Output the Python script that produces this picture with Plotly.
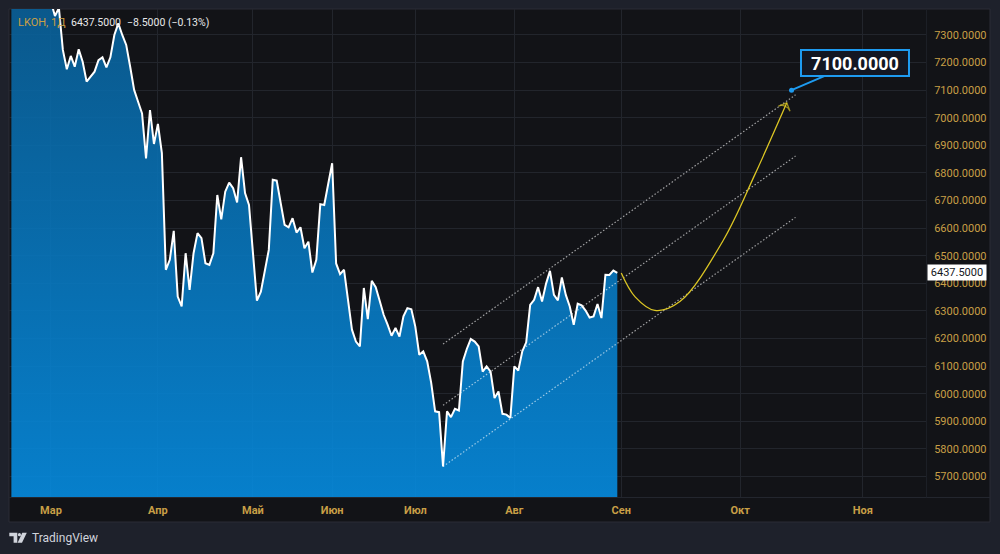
import plotly.graph_objects as go

# ---------------- data ----------------
prices = [
    7460, 7490, 7530, 7500, 7550, 7520, 7470, 7510, 7480, 7450, 7420,
    7369, 7398, 7246, 7176, 7224, 7185, 7248, 7203, 7131, 7147,
    7167, 7209, 7219, 7183, 7219, 7300, 7342, 7300, 7264, 7185,
    7101, 7058, 7016, 6853, 7028, 6905, 6978, 6872, 6449, 6485,
    6590, 6352, 6316, 6509, 6376, 6509, 6582, 6564, 6473, 6467,
    6509, 6720, 6632, 6732, 6765, 6745, 6693, 6857, 6727, 6684,
    6510, 6337, 6370, 6442, 6521, 6775, 6772, 6691, 6612, 6603,
    6636, 6584, 6603, 6527, 6551, 6439, 6485, 6687, 6684, 6760,
    6835, 6472, 6433, 6449, 6340, 6232, 6189, 6171, 6383, 6270,
    6409, 6386, 6337, 6286, 6250, 6210, 6238, 6207, 6280, 6310,
    6306, 6243, 6141, 6153, 6117, 6040, 5936, 5933, 5736, 5936,
    5915, 5945, 5939, 6117, 6162, 6198, 6189, 6171, 6080, 6099,
    6080, 5984, 6008, 5927, 5924, 5912, 6099, 6084, 6153, 6186,
    6322, 6340, 6386, 6334, 6398, 6445, 6358, 6338, 6421, 6358,
    6316, 6250, 6326, 6320, 6301, 6276, 6280, 6325, 6274, 6431,
    6430, 6446, 6437.5,
]
bars = list(range(len(prices)))

month_labels = ["Мар", "Апр", "Май", "Июн", "Июл", "Авг", "Сен", "Окт", "Ноя"]
month_bars = [10, 37, 61, 81, 102, 127, 154, 184, 215]

price_ticks = [5700, 5800, 5900, 6000, 6100, 6200, 6300, 6400, 6500,
               6600, 6700, 6800, 6900, 7000, 7100, 7200, 7300]

channel_bars = [109, 198]
channel_lower = [5736, 6639]
channel_width = 444

forecast_bars = [154, 157.5, 162.5, 168.8, 179.8, 187.7, 195.8]
forecast_vals = [6437.5, 6351, 6302, 6334, 6557, 6793, 7054]

target_bar = 197
target_price = 7100

ticker = "LKOH, 1Д"
last_price = 6437.5
change = -8.5
change_pct = -0.13

# ---------------- layout helpers ----------------
W, H = 1000, 554
L, R, T, B = 9, 74, 9, 57
PW, PH = W - L - R, H - T - B


def pxx(p):
    return (p - L) / PW


def pxy(p):
    return (H - B - p) / PH


GOLD = "#c89f46"
BG_OUT = "#1e212b"
BG_PANE = "#121317"
GRID = "#22252c"
ymin, ymax = 5625.5, 7394.2

fig = go.Figure()

# area series
fig.add_trace(go.Scatter(
    x=bars, y=prices, mode="lines",
    line=dict(color="#ffffff", width=2),
    fill="tozeroy",
    fillgradient=dict(type="vertical", start=ymin, stop=ymax,
                      colorscale=[[0, "rgba(5,142,228,0.88)"],
                                  [1, "rgba(9,98,156,0.88)"]]),
    hoverinfo="skip",
))

# channel (lower, middle, upper)
for frac in (0, 0.5, 1):
    fig.add_trace(go.Scatter(
        x=channel_bars, y=[v + channel_width * frac for v in channel_lower],
        mode="lines", line=dict(color="rgba(255,255,255,0.6)", width=1.2, dash="1.5px,2px"),
        hoverinfo="skip",
    ))

# forecast path
YEL = "#dcc624"
fig.add_trace(go.Scatter(
    x=forecast_bars, y=forecast_vals, mode="lines",
    line=dict(color=YEL, width=1.3, shape="spline", smoothing=1.0),
    hoverinfo="skip",
))
fig.add_trace(go.Scatter(
    x=forecast_bars[-2:], y=forecast_vals[-2:], mode="markers",
    marker=dict(symbol="arrow-wide-open", size=[0, 9], angleref="previous",
                color=YEL, line=dict(color=YEL, width=1.3)),
    hoverinfo="skip",
))

# target dot
fig.add_trace(go.Scatter(
    x=[target_bar], y=[target_price], mode="markers",
    marker=dict(color="#1e9bf0", size=5), hoverinfo="skip",
))

shapes = []
# pane background
shapes.append(dict(type="rect", xref="paper", yref="paper", layer="below",
                   x0=pxx(9), x1=pxx(990), y0=pxy(522), y1=pxy(9),
                   fillcolor=BG_PANE, line=dict(color="#2a2d36", width=1)))
# separators
shapes.append(dict(type="line", xref="paper", yref="paper", layer="below",
                   x0=pxx(9), x1=pxx(990), y0=pxy(497.5), y1=pxy(497.5),
                   line=dict(color="#23262e", width=1)))
shapes.append(dict(type="line", xref="paper", yref="paper", layer="below",
                   x0=pxx(926.5), x1=pxx(926.5), y0=pxy(497.5), y1=pxy(9),
                   line=dict(color="#1c1f26", width=1)))

# TradingView logo
def poly(pts):
    return "M " + " L ".join(f"{pxx(a):.5f},{pxy(b):.5f}" for a, b in pts) + " Z"

LOGO = "#d1d4dc"
shapes.append(dict(type="path", xref="paper", yref="paper",
                   path=poly([(9.3, 532.7), (17.3, 532.7), (17.3, 542.7), (13.6, 542.7),
                              (13.6, 536.2), (9.3, 536.2)]),
                   fillcolor=LOGO, line=dict(width=0)))
shapes.append(dict(type="circle", xref="paper", yref="paper",
                   x0=pxx(17.9), x1=pxx(21.0), y0=pxy(536.2), y1=pxy(533.1),
                   fillcolor=LOGO, line=dict(width=0)))
shapes.append(dict(type="path", xref="paper", yref="paper",
                   path=poly([(22.3, 532.7), (26.8, 532.7), (22.0, 542.7), (17.6, 542.7)]),
                   fillcolor=LOGO, line=dict(width=0)))

annotations = []
# header
annotations.append(dict(xref="paper", yref="paper", x=pxx(15.5), y=pxy(22.5),
                        xanchor="left", yanchor="middle", showarrow=False,
                        text=ticker, font=dict(color=GOLD, size=11)))
annotations.append(dict(xref="paper", yref="paper", x=pxx(68.5), y=pxy(22.5),
                        xanchor="left", yanchor="middle", showarrow=False,
                        text=f"{last_price:.4f}", font=dict(color="#e8e8ea", size=10.5)))
annotations.append(dict(xref="paper", yref="paper", x=pxx(124.5), y=pxy(22.5),
                        xanchor="left", yanchor="middle", showarrow=False,
                        text=f"\u2212{abs(change):.4f} (\u2212{abs(change_pct):.2f}%)",
                        font=dict(color="#e8e8ea", size=10.5)))
# last price label
annotations.append(dict(xref="paper", yref="y", x=pxx(926.5), y=last_price,
                        xanchor="left", yanchor="middle", showarrow=False,
                        text=f"{last_price:.4f}", bgcolor="#ffffff",
                        font=dict(color="#131722", size=11),
                        width=56, height=13, borderpad=1))
# target callout
annotations.append(dict(x=target_bar, y=target_price, xref="x", yref="y",
                        ax=63, ay=-27, showarrow=True, arrowhead=0,
                        arrowcolor="#1e9bf0", arrowwidth=2,
                        text=f"<b>{target_price:.4f}</b>",
                        font=dict(color="#ffffff", size=18),
                        bgcolor="#131722", bordercolor="#1e9bf0", borderwidth=2,
                        borderpad=2, width=102, height=20))
# TradingView wordmark
annotations.append(dict(xref="paper", yref="paper", x=pxx(29.5), y=pxy(538.3),
                        xanchor="left", yanchor="middle", showarrow=False,
                        text="TradingView", font=dict(color=LOGO, size=12)))

fig.update_layout(
    width=W, height=H,
    margin=dict(l=L, r=R, t=T, b=B, pad=0),
    paper_bgcolor=BG_OUT, plot_bgcolor="rgba(0,0,0,0)",
    font=dict(family="Roboto"),
    showlegend=False, hovermode=False,
    shapes=shapes, annotations=annotations,
    xaxis=dict(range=[-0.6, 230.95], tickvals=month_bars, ticktext=month_labels,
               showgrid=True, gridcolor=GRID, gridwidth=1, zeroline=False,
               showline=False, ticks="outside", ticklen=3, tickcolor="rgba(0,0,0,0)",
               tickfont=dict(color=GOLD, size=11, weight="bold"), fixedrange=True),
    yaxis=dict(range=[ymin, ymax], side="right", tickvals=price_ticks,
               ticktext=[f"{v:.4f}" for v in price_ticks],
               showgrid=True, gridcolor=GRID, gridwidth=1, zeroline=False,
               showline=False, ticks="outside", ticklen=5, tickcolor="rgba(0,0,0,0)",
               tickfont=dict(color=GOLD, size=11), fixedrange=True),
)

fig.write_html("out.html")
